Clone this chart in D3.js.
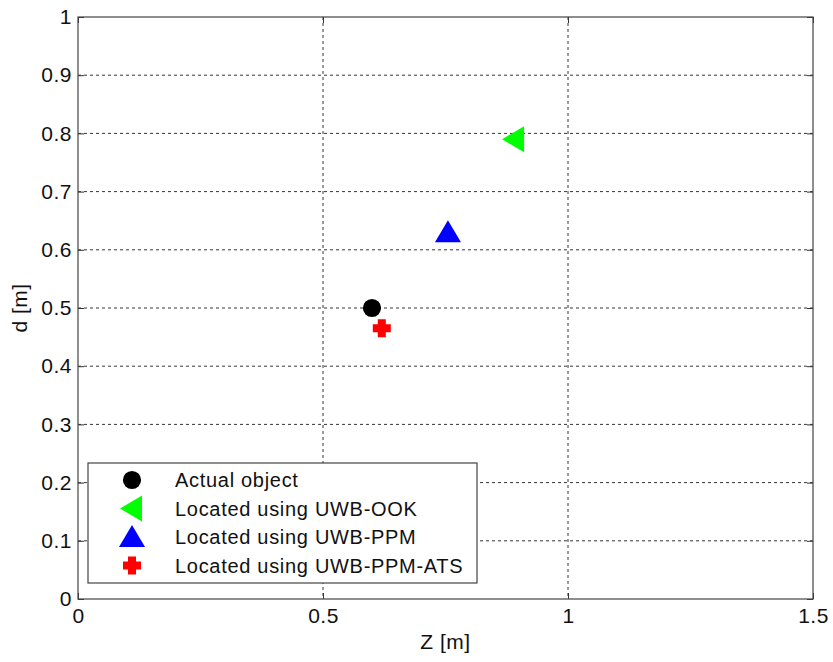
<!DOCTYPE html>
<html>
<head>
<meta charset="utf-8">
<script src="https://cdn.jsdelivr.net/npm/d3@7"></script>
<style>
  body { margin: 0; background: #fff; }
  svg { font-family: "Liberation Sans", Arial, sans-serif; }
</style>
</head>
<body>
<svg id="chart" width="833" height="662"></svg>
<script>
// data
var seriesNames = ["Actual object", "Located using UWB-OOK", "Located using UWB-PPM", "Located using UWB-PPM-ATS"];
var seriesZ = [0.60, 0.89, 0.755, 0.62];
var seriesD = [0.50, 0.79, 0.63, 0.465];
var seriesColors = ["#000000", "#00ff00", "#0000ff", "#ff0000"];
var seriesShapes = ["circle", "triangleLeft", "triangleUp", "plus"];
var xTicks = [0, 0.5, 1, 1.5];
var yTicks = [0, 0.1, 0.2, 0.3, 0.4, 0.5, 0.6, 0.7, 0.8, 0.9, 1];

var svg = d3.select("#chart");
var margin = {left: 78, top: 17, right: 20, bottom: 63};
var W = 833 - margin.left - margin.right,
    H = 662 - margin.top - margin.bottom;

var x = d3.scaleLinear().domain([0, 1.5]).range([0, W]);
var y = d3.scaleLinear().domain([0, 1]).range([H, 0]);

var g = svg.append("g").attr("transform", "translate(" + margin.left + "," + margin.top + ")");

// dotted grid
g.selectAll(".gx").data(xTicks.slice(1, -1)).enter().append("line")
  .attr("x1", function(d) { return x(d); }).attr("x2", function(d) { return x(d); })
  .attr("y1", 0).attr("y2", H)
  .attr("stroke", "#000").attr("stroke-width", 0.8).attr("stroke-dasharray", "3,3");
g.selectAll(".gy").data(yTicks.slice(1, -1)).enter().append("line")
  .attr("y1", function(d) { return y(d); }).attr("y2", function(d) { return y(d); })
  .attr("x1", 0).attr("x2", W)
  .attr("stroke", "#000").attr("stroke-width", 0.8).attr("stroke-dasharray", "3,3");

// axes with inward ticks, matlab style
function styleAxis(sel) {
  sel.select(".domain").remove();
  sel.selectAll(".tick line").attr("stroke", "#333");
  sel.selectAll(".tick text").attr("fill", "#111")
    .style("font-size", "21px").style("letter-spacing", "0.5px");
}
g.append("g").attr("transform", "translate(0," + H + ")")
  .call(d3.axisBottom(x).tickValues(xTicks).tickFormat(d3.format("~g")).tickSizeInner(-6).tickPadding(9))
  .call(styleAxis);
g.append("g")
  .call(d3.axisTop(x).tickValues(xTicks).tickFormat("").tickSizeInner(-6))
  .call(styleAxis);
g.append("g")
  .call(d3.axisLeft(y).tickValues(yTicks).tickFormat(d3.format("~g")).tickSizeInner(-6).tickPadding(6))
  .call(styleAxis);
g.append("g").attr("transform", "translate(" + W + ",0)")
  .call(d3.axisRight(y).tickValues(yTicks).tickFormat("").tickSizeInner(-6))
  .call(styleAxis);

g.append("rect").attr("width", W).attr("height", H)
  .attr("fill", "none").attr("stroke", "#444").attr("stroke-width", 1.2);

// marker shapes
function markerPath(shape) {
  if (shape === "circle") return d3.symbol(d3.symbolCircle, 260)();
  if (shape === "plus") return "M-4,-9H4V-4H9V4H4V9H-4V4H-9V-4H-4Z";
  if (shape === "triangleUp") return "M0,-12L13,10L-13,10Z";
  if (shape === "triangleLeft") return "M-12,0L10,-13L10,13Z";
}

var pts = d3.range(seriesNames.length);
g.selectAll(".pt").data(pts).enter().append("path")
  .attr("transform", function(i) { return "translate(" + x(seriesZ[i]) + "," + y(seriesD[i]) + ")"; })
  .attr("d", function(i) { return markerPath(seriesShapes[i]); })
  .attr("fill", function(i) { return seriesColors[i]; });

// axis titles
svg.append("text").attr("x", margin.left + W / 2).attr("y", 649)
  .attr("text-anchor", "middle").style("font-size", "21px").style("letter-spacing", "0.5px")
  .attr("fill", "#111").text("Z [m]");
svg.append("text").attr("transform", "translate(27," + (margin.top + H / 2) + ") rotate(-90)")
  .attr("text-anchor", "middle").style("font-size", "21px").style("letter-spacing", "0.5px")
  .attr("fill", "#111").text("d [m]");

// legend
var leg = svg.append("g").attr("transform", "translate(88,463)");
leg.append("rect").attr("width", 389).attr("height", 120)
  .attr("fill", "#fff").attr("stroke", "#444").attr("stroke-width", 1.2);
var rows = leg.selectAll(".row").data(pts).enter().append("g")
  .attr("transform", function(i) { return "translate(0," + (17 + i * 28.5) + ")"; });
rows.append("path")
  .attr("transform", "translate(44,0)")
  .attr("d", function(i) { return markerPath(seriesShapes[i]); })
  .attr("fill", function(i) { return seriesColors[i]; });
rows.append("text").attr("x", 87).attr("y", 7)
  .style("font-size", "20px").style("letter-spacing", "0.7px").attr("fill", "#111")
  .text(function(i) { return seriesNames[i]; });
</script>
</body>
</html>
